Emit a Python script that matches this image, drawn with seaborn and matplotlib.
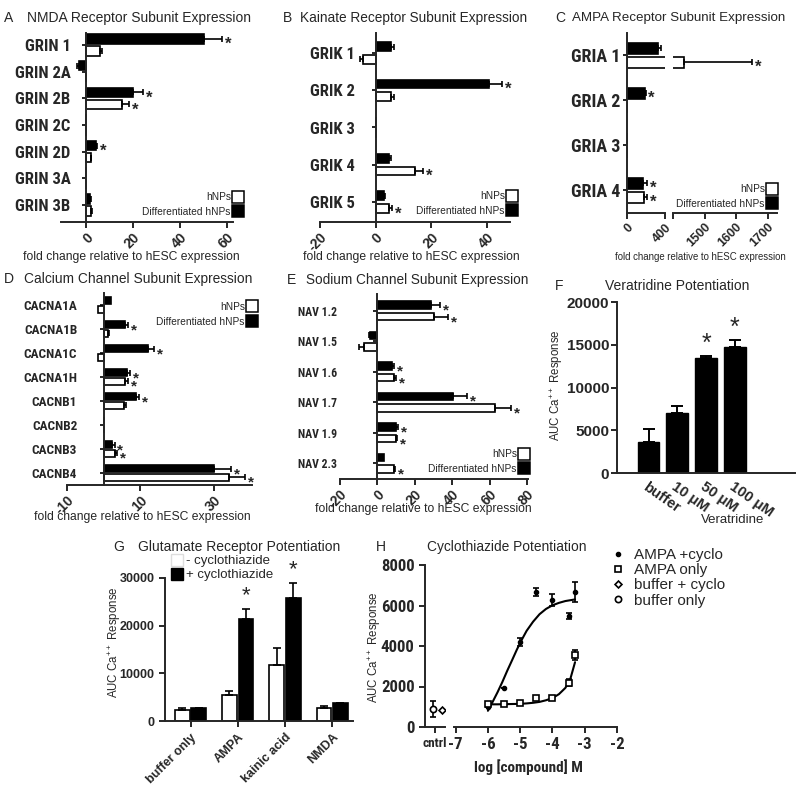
import matplotlib
matplotlib.use("Agg")
import matplotlib.pyplot as plt
from matplotlib import font_manager
from matplotlib.lines import Line2D
import seaborn as sns
import pandas as pd

sns.set_style("ticks")
plt.rcParams['font.family'] = ['Liberation Sans', 'DejaVu Sans']
plt.rcParams['mathtext.default'] = 'regular'
plt.rcParams['axes.unicode_minus'] = False
plt.rcParams['axes.linewidth'] = 1.4
plt.rcParams['xtick.major.width'] = 1.4
plt.rcParams['ytick.major.width'] = 1.4

# narrow bold font for the gene labels, if there is one
installed = {f.name for f in font_manager.fontManager.ttflist}
NARROW, NS = ['Liberation Sans', 'DejaVu Sans'], 0.84
for cand in ['Liberation Sans Narrow', 'Roboto Condensed']:
    if cand in installed:
        NARROW, NS = [cand, 'Liberation Sans', 'DejaVu Sans'], 1.0
        break

# --- data ---
groups = ['Differentiated hNPs', 'hNPs']

nmda_genes = ['GRIN 1', 'GRIN 2A', 'GRIN 2B', 'GRIN 2C', 'GRIN 2D', 'GRIN 3A', 'GRIN 3B']
nmda_diff = [50, -3, 20, 0, 4.2, 0, 1.8]
nmda_diff_err = [8, 0.5, 4.5, 0, 0.5, 0, 0.3]
nmda_hnp = [6, 0, 15.4, 0, 2.1, 0, 2.4]
nmda_hnp_err = [1, 0, 3, 0, 0.3, 0, 0.3]
nmda_diff_star = [1, 0, 1, 0, 1, 0, 0]
nmda_hnp_star = [0, 0, 1, 0, 0, 0, 0]

kain_genes = ['GRIK 1', 'GRIK 2', 'GRIK 3', 'GRIK 4', 'GRIK 5']
kain_diff = [5.4, 40.6, 0, 4.8, 3]
kain_diff_err = [1.2, 4.8, 0, 0.8, 0.3]
kain_hnp = [-4.4, 5.6, 0, 14, 4.9]
kain_hnp_err = [1.2, 1.0, 0, 3, 1.1]
kain_diff_star = [0, 1, 0, 0, 0]
kain_hnp_star = [0, 0, 0, 1, 1]

ampa_genes = ['GRIA 1', 'GRIA 2', 'GRIA 3', 'GRIA 4']
ampa_diff = [330, 185, 0, 170]
ampa_diff_err = [25, 10, 0, 40]
ampa_hnp = [1435, 0, 0, 175]
ampa_hnp_err = [215, 0, 0, 35]
ampa_diff_star = [0, 1, 0, 1]
ampa_hnp_star = [1, 0, 0, 1]

ca_genes = ['CACNA1A', 'CACNA1B', 'CACNA1C', 'CACNA1H', 'CACNB1', 'CACNB2', 'CACNB3', 'CACNB4']
ca_diff = [2.0, 5.7, 12.1, 6.4, 8.7, 0, 2.3, 30]
ca_diff_err = [0, 0.9, 1.6, 0.9, 0.9, 0, 0.7, 4.9]
ca_hnp = [-1.5, 1.2, -1.5, 5.9, 5.5, 0, 3.0, 34.2]
ca_hnp_err = [0, 0.3, 0, 0.7, 0.6, 0, 0.6, 4.5]
ca_diff_star = [0, 1, 1, 1, 1, 0, 1, 1]
ca_hnp_star = [0, 0, 0, 1, 0, 0, 1, 1]

na_genes = ['NAV 1.2', 'NAV 1.5', 'NAV 1.6', 'NAV 1.7', 'NAV 1.9', 'NAV 2.3']
na_diff = [28.5, -3.9, 7.7, 40.3, 10, 3.6]
na_diff_err = [5, 0.5, 1.2, 7.8, 1.2, 0]
na_hnp = [30.3, -7.1, 8.6, 62.9, 10, 8.6]
na_hnp_err = [7.7, 2.7, 1.4, 8.4, 0.7, 0.8]
na_diff_star = [1, 0, 1, 1, 1, 0]
na_hnp_star = [1, 0, 1, 1, 1, 1]

ver_labels = ['buffer', '10 μM', '50 μM', '100 μM']
ver_auc = [3600, 7000, 13450, 14740]
ver_err = [1560, 780, 200, 780]
ver_star = [0, 0, 1, 1]

glu_agonists = ['buffer only', 'AMPA', 'kainic acid', 'NMDA']
glu_groups = ['- cyclothiazide', '+ cyclothiazide']
glu_minus = [2300, 5500, 11700, 2700]
glu_minus_err = [350, 850, 3650, 500]
glu_plus = [2650, 21300, 25800, 3700]
glu_plus_err = [150, 2100, 3100, 150]
glu_plus_star = [0, 1, 1, 0]

log_conc = [-6, -5.5, -5, -4.5, -4, -3.5, -3.3]
ampa_cyclo = [1000, 1930, 4190, 6650, 6270, 5480, 6680]
ampa_cyclo_err = [0, 0, 200, 200, 280, 130, 500]
ampa_only = [1120, 1150, 1190, 1450, 1435, 2190, 3550]
ampa_only_err = [80, 60, 60, 100, 100, 180, 260]
fit_x = [-6.0, -5.85, -5.7, -5.55, -5.4, -5.25, -5.1, -4.95, -4.8, -4.6, -4.4, -4.2, -4.0, -3.8, -3.6, -3.45, -3.3]
cyclo_fit = [800, 1250, 1720, 2230, 2780, 3300, 3830, 4310, 4750, 5200, 5570, 5830, 6010, 6130, 6220, 6260, 6300]
only_fit = [1120, 1120, 1120, 1125, 1130, 1135, 1140, 1150, 1165, 1195, 1240, 1320, 1430, 1620, 1930, 2350, 3200]
cntrl_buffer = 900
cntrl_buffer_err = 400
cntrl_buffer_cyclo = 820

# --- layout helpers ---
W, H = 800, 788
fig = plt.figure(figsize=(8, 7.88), dpi=100)


def add_ax(left, top, right, bottom):
    return fig.add_axes([left / W, 1 - bottom / H, (right - left) / W, (bottom - top) / H])


def ftext(x, y, s, **kw):
    kw.setdefault('va', 'center')
    return fig.text(x / W, 1 - y / H, s, **kw)


palette = {'Differentiated hNPs': 'black', 'hNPs': 'white'}
leg_handles = [
    Line2D([], [], ls='none', marker='s', ms=9, mfc='white', mec='black', mew=1.1, label='hNPs'),
    Line2D([], [], ls='none', marker='s', ms=9, mfc='black', mec='black', mew=1.1, label='Differentiated hNPs'),
]


def hbar(ax, genes, diff, diff_err, hnp, hnp_err, diff_star, hnp_star, width, gap, star_size=12):
    df = pd.DataFrame({'gene': genes * 2, 'value': diff + hnp,
                       'group': [groups[0]] * len(genes) + [groups[1]] * len(genes)})
    sns.barplot(data=df, x='value', y='gene', hue='group', hue_order=groups, order=genes,
                palette=palette, edgecolor='black', linewidth=1.2, width=width, gap=gap,
                orient='h', errorbar=None, legend=False, ax=ax)
    for cont, vals, errs, stars in zip(ax.containers, [diff, hnp], [diff_err, hnp_err], [diff_star, hnp_star]):
        for bar, v, e, s in zip(cont, vals, errs, stars):
            yc = bar.get_y() + bar.get_height() / 2
            sign = 1 if v >= 0 else -1
            if e > 0:
                xerr = [[0], [e]] if sign > 0 else [[e], [0]]
                ax.errorbar(v, yc, xerr=xerr, fmt='none', ecolor='black', elinewidth=1.2,
                            capsize=2.5, capthick=1.2)
            if s:
                ax.annotate('*', (v + sign * e, yc), xytext=(2, -4), textcoords='offset points',
                            ha='left', va='center', fontsize=star_size, fontweight='bold')


def rot_labels(labels, angle, ha, size):
    for lbl in labels:
        lbl.set_fontweight('bold')
        lbl.set_fontsize(size)
        lbl.set_rotation(angle)
        lbl.set_ha(ha)
        lbl.set_va('top')
        lbl.set_rotation_mode('anchor')


def style_h(ax, n, top_pad, bot_pad, xlim, xticks, label_size, pad, tick_size=10):
    sns.despine(ax=ax)
    ax.spines['left'].set_position(('data', 0))
    ax.set_ylim(n - 1 + bot_pad, -top_pad)
    ax.set_xlim(*xlim)
    ax.set_xticks(xticks)
    ax.set_xlabel('')
    ax.set_ylabel('')
    ax.tick_params(axis='y', length=3, pad=pad)
    ax.tick_params(axis='x', length=4, pad=2)
    for lbl in ax.get_yticklabels():
        lbl.set_fontfamily(NARROW)
        lbl.set_fontweight('bold')
        lbl.set_fontsize(label_size * NS)
    rot_labels(ax.get_xticklabels(), 45, 'right', tick_size)


def leg(ax, x, y, loc='lower right'):
    ax.legend(handles=leg_handles, loc=loc, bbox_to_anchor=(x / W, 1 - y / H),
              bbox_transform=fig.transFigure, markerfirst=False, frameon=False,
              fontsize=7.3, handlelength=0.8, handletextpad=0.3, labelspacing=0.45,
              borderpad=0, borderaxespad=0)


fold_label = 'fold change relative to hESC expression'

# --- A: NMDA ---
axA = add_ax(61, 33, 233, 222)
hbar(axA, nmda_genes, nmda_diff, nmda_diff_err, nmda_hnp, nmda_hnp_err, nmda_diff_star, nmda_hnp_star, 0.9, 0.2)
style_h(axA, 7, 0.45, 0.64, (-10.5, 62.5), [0, 20, 40, 60], 12, 8)
leg(axA, 242, 217)
ftext(4, 18, 'A', fontsize=10)
ftext(27, 18, 'NMDA Receptor Subunit Expression', fontsize=10)
ftext(131, 257, fold_label, fontsize=8.7, ha='center')

# --- B: Kainate ---
axB = add_ax(320, 33, 510, 222)
hbar(axB, kain_genes, kain_diff, kain_diff_err, kain_hnp, kain_hnp_err, kain_diff_star, kain_hnp_star, 0.68, 0.3)
style_h(axB, 5, 0.54, 0.54, (-20, 48.3), [-20, 0, 20, 40], 12, 12)
leg(axB, 516, 216)
ftext(283, 18, 'B', fontsize=10)
ftext(300, 18, 'Kainate Receptor Subunit Expression', fontsize=9.8)
ftext(411, 257, fold_label, fontsize=8.7, ha='center')

# --- C: AMPA (broken x axis) ---
axC1 = add_ax(627, 33, 665, 213)
axC2 = add_ax(673, 33, 777, 213)
for ax in (axC1, axC2):
    hbar(ax, ampa_genes, ampa_diff, ampa_diff_err, ampa_hnp, ampa_hnp_err, ampa_diff_star, ampa_hnp_star, 0.62, 0.21)
style_h(axC1, 4, 0.49, 0.51, (0, 400), [0, 400], 13, 2, tick_size=9)
style_h(axC2, 4, 0.49, 0.51, (1400, 1730), [1400, 1500, 1600, 1700], 13, 2, tick_size=9)
axC2.set_xticklabels(['', '1500', '1600', '1700'])
rot_labels(axC2.get_xticklabels(), 45, 'right', 9)
axC2.spines['left'].set_visible(False)
axC2.set_yticks([])
leg(axC2, 776, 209)
ftext(555, 18, 'C', fontsize=10)
ftext(572, 18, 'AMPA Receptor Subunit Expression', fontsize=9.6)
ftext(700, 257, fold_label, fontsize=6.9, ha='center')

# --- D: Calcium channel ---
axD = add_ax(67, 293, 252, 485)
hbar(axD, ca_genes, ca_diff, ca_diff_err, ca_hnp, ca_hnp_err, ca_diff_star, ca_hnp_star, 0.72, 0.14, star_size=11)
style_h(axD, 8, 0.5, 0.5, (-10, 40.5), [-10, 10, 30], 9.5, 16)
leg(axD, 256, 302, loc='upper right')
ftext(4, 279, 'D', fontsize=10)
ftext(24, 279, 'Calcium Channel Subunit Expression', fontsize=9.9)
ftext(142, 517, fold_label, fontsize=8.7, ha='center')

# --- E: Sodium channel ---
axE = add_ax(340, 294, 528, 479)
hbar(axE, na_genes, na_diff, na_diff_err, na_hnp, na_hnp_err, na_diff_star, na_hnp_star, 0.76, 0.34, star_size=11)
style_h(axE, 6, 0.55, 0.52, (-20, 80.5), [-20, 0, 20, 40, 60, 80], 8.5, 26)
leg(axE, 528, 474)
ftext(287, 280, 'E', fontsize=10)
ftext(306, 280, 'Sodium Channel Subunit Expression', fontsize=9.8)
ftext(423, 509, fold_label, fontsize=8.7, ha='center')

# --- F: Veratridine ---
axF = add_ax(617, 302, 795, 473)
sns.barplot(x=ver_labels, y=ver_auc, color='black', edgecolor='black', width=0.76,
            errorbar=None, ax=axF)
for bar, v, e, s in zip(axF.patches, ver_auc, ver_err, ver_star):
    xc = bar.get_x() + bar.get_width() / 2
    axF.errorbar(xc, v, yerr=[[0], [e]], fmt='none', ecolor='black', elinewidth=1.4,
                 capsize=4, capthick=1.4)
    if s:
        axF.annotate('*', (xc, v + e), xytext=(0, 0), textcoords='offset points',
                     ha='center', va='bottom', fontsize=18)
sns.despine(ax=axF)
axF.set_xlim(-1.1, 5.1)
axF.set_ylim(0, 20000)
axF.set_yticks([0, 5000, 10000, 15000, 20000])
axF.tick_params(axis='y', length=4, labelsize=11, pad=1.5)
axF.tick_params(axis='x', length=0, pad=5)
for lbl in axF.get_yticklabels():
    lbl.set_fontweight('bold')
rot_labels(axF.get_xticklabels(), -35, 'left', 10.5)
ftext(555, 286, 'F', fontsize=10)
ftext(677, 286, 'Veratridine Potentiation', fontsize=10, ha='center')
ftext(733, 520, 'Veratridine', fontsize=9.5, ha='center')
ftext(557, 385, 'AUC Ca$^{++}$ Response', fontsize=8.3, ha='center', rotation=90)

# --- G: Glutamate receptor potentiation ---
axG = add_ax(165, 578, 353, 721)
glu_df = pd.DataFrame({'agonist': glu_agonists * 2, 'auc': glu_minus + glu_plus,
                       'cyclo': [glu_groups[0]] * 4 + [glu_groups[1]] * 4})
sns.barplot(data=glu_df, x='agonist', y='auc', hue='cyclo', hue_order=glu_groups,
            palette={glu_groups[0]: 'white', glu_groups[1]: 'black'}, edgecolor='black',
            linewidth=1.2, width=0.7, gap=0.1, errorbar=None, legend=False, ax=axG)
for cont, vals, errs, stars in zip(axG.containers, [glu_minus, glu_plus], [glu_minus_err, glu_plus_err],
                                   [[0, 0, 0, 0], glu_plus_star]):
    for bar, v, e, s in zip(cont, vals, errs, stars):
        xc = bar.get_x() + bar.get_width() / 2
        axG.errorbar(xc, v, yerr=[[0], [e]], fmt='none', ecolor='black', elinewidth=1.2,
                     capsize=3, capthick=1.2)
        if s:
            axG.annotate('*', (xc, v + e), xytext=(0, 2), textcoords='offset points',
                         ha='center', va='bottom', fontsize=16)
sns.despine(ax=axG)
axG.set_xlim(-0.54, 3.44)
axG.set_ylim(0, 30000)
axG.set_yticks([0, 10000, 20000, 30000])
axG.set_xlabel('')
axG.set_ylabel('')
axG.tick_params(axis='both', length=4, labelsize=9)
for lbl in axG.get_yticklabels():
    lbl.set_fontweight('bold')
rot_labels(axG.get_xticklabels(), 45, 'right', 9)
glu_handles = [
    Line2D([], [], ls='none', marker='s', ms=9, mfc='white', mec='#dddddd', mew=1, label=glu_groups[0]),
    Line2D([], [], ls='none', marker='s', ms=9, mfc='black', mec='black', mew=1, label=glu_groups[1]),
]
axG.legend(handles=glu_handles, loc='upper left', bbox_to_anchor=(171 / W, 1 - 555 / H),
           bbox_transform=fig.transFigure, frameon=False, fontsize=9.5, handlelength=0.9,
           handletextpad=0.2, labelspacing=0.15, borderpad=0, borderaxespad=0)
ftext(113, 547, 'G', fontsize=10)
ftext(138, 547, 'Glutamate Receptor Potentiation', fontsize=10)
ftext(115, 642, 'AUC Ca$^{++}$ Response', fontsize=8.3, ha='center', rotation=90)

# --- H: Cyclothiazide potentiation ---
axH0 = add_ax(425, 565, 445, 727)
axH = add_ax(454, 565, 617, 727)
axH0.errorbar([1], [cntrl_buffer], yerr=[cntrl_buffer_err], fmt='o', ms=4.5, mfc='white',
              mec='black', mew=1.2, ecolor='black', elinewidth=1.2, capsize=2.5)
axH0.plot([2], [cntrl_buffer_cyclo], ls='none', marker='D', ms=3.5, mfc='white', mec='black', mew=1.2)
axH0.set_xlim(0, 2.4)
axH0.set_ylim(0, 8000)
axH0.set_yticks([0, 2000, 4000, 6000, 8000])
axH0.set_xticks([1.2])
axH0.set_xticklabels(['cntrl'])
sns.despine(ax=axH0)

sns.lineplot(x=fit_x, y=cyclo_fit, color='black', lw=1.5, ax=axH)
sns.lineplot(x=fit_x, y=only_fit, color='black', lw=1.5, ax=axH)
axH.errorbar(log_conc, ampa_cyclo, yerr=ampa_cyclo_err, fmt='o', ms=3, color='black',
             elinewidth=1.2, capsize=2.5, capthick=1.2)
axH.errorbar(log_conc, ampa_only, yerr=ampa_only_err, fmt='s', ms=4.5, mfc='white', mec='black',
             mew=1.2, ecolor='black', elinewidth=1.2, capsize=2.5, capthick=1.2)
axH.set_xlim(-7.05, -2)
axH.set_ylim(0, 8000)
axH.set_xticks([-7, -6, -5, -4, -3, -2])
axH.set_yticks([])
sns.despine(ax=axH, left=True)
for ax in (axH0, axH):
    ax.tick_params(axis='both', length=4, labelsize=10.5 * (1.15 if NS == 1.0 else 1.0))
    for lbl in ax.get_xticklabels() + ax.get_yticklabels():
        lbl.set_fontweight('bold')
        lbl.set_fontfamily(NARROW)
for lbl in axH0.get_xticklabels():
    lbl.set_fontsize(9.5 * NS * (1.0 if NS == 1.0 else 0.95))
h_handles = [
    Line2D([], [], ls='none', marker='o', ms=3, color='black', label='AMPA +cyclo'),
    Line2D([], [], ls='none', marker='s', ms=4.5, mfc='white', mec='black', mew=1.2, label='AMPA only'),
    Line2D([], [], ls='none', marker='D', ms=3.5, mfc='white', mec='black', mew=1.2, label='buffer + cyclo'),
    Line2D([], [], ls='none', marker='o', ms=4.5, mfc='white', mec='black', mew=1.2, label='buffer only'),
]
axH.legend(handles=h_handles, loc='upper left', bbox_to_anchor=(610 / W, 1 - 548 / H),
           bbox_transform=fig.transFigure, frameon=False, fontsize=11, handlelength=1,
           handletextpad=0.6, labelspacing=0.08, borderpad=0, borderaxespad=0)
ftext(376, 547, 'H', fontsize=10)
ftext(507, 547, 'Cyclothiazide Potentiation', fontsize=9.9, ha='center')
ftext(528, 767, 'log [compound] M', fontsize=11 * NS, ha='center', fontweight='bold', family=NARROW)
ftext(375, 647, 'AUC Ca$^{++}$ Response', fontsize=8.3, ha='center', rotation=90)

fig.savefig('out.png', dpi=100)
